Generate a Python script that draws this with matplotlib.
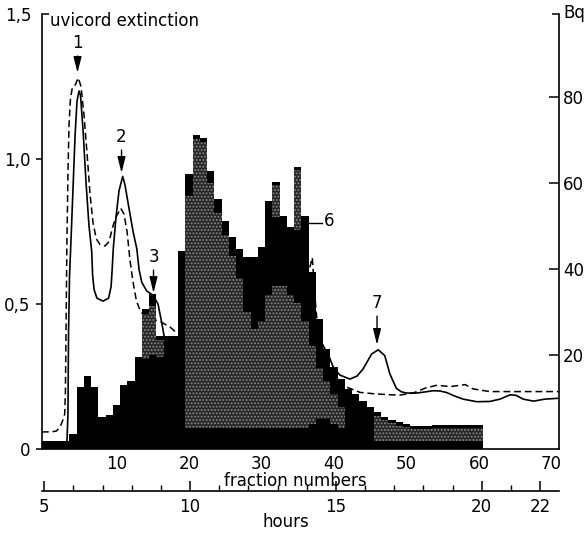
import numpy as np
import matplotlib
matplotlib.use("Agg")
import matplotlib.pyplot as plt
from matplotlib.ticker import FixedLocator, FixedFormatter, MultipleLocator

plt.rcParams['font.family'] = ['DejaVu Sans']
plt.rcParams['hatch.linewidth'] = 0.9

# ---------------- data ----------------
fractions = list(range(0, 61))
activity_bq = [0, 0, 0, 0, 1.6, 12.5, 15.2, 12.5, 5.5, 6.0,
               8.4, 13.0, 14.0, 19.5, 30.7, 34.2, 24.5, 24.5, 24.5, 44.2,
               62.1, 71.2, 70.4, 62.9, 56.3, 51.2, 47.4, 44.7, 42.7, 42.7,
               45.0, 55.7, 60.3, 52.3, 49.7, 63.7, 52.4, 39.4, 28.4, 21.4,
               17.2, 14.4, 12.0, 10.9, 9.4, 7.9, 6.7, 5.6, 4.9, 4.4,
               4.0, 3.6, 3.6, 3.6, 3.8, 3.8, 3.8, 3.8, 3.8, 3.8, 3.8]

# stippled (grey) parts of the histogram
stipple_f = [14, 15, 16, 20, 21, 22, 23, 24, 25, 26, 27, 28, 29, 30, 31, 32, 33,
             34, 35, 36, 37, 38, 39, 40, 41, 46, 47, 48, 49, 50, 51, 52, 53,
             54, 55, 56, 57, 58, 59, 60, 32, 35]
stipple_lo = [19, 20, 19.5, 3, 3, 3, 3, 3, 3, 3, 3, 3, 3, 3, 3, 3, 3,
              3, 3, 3, 4, 5, 5, 4, 3, 0, 0, 0, 0, 0, 0, 0, 0,
              0, 0, 0, 0, 0, 0, 0, 52, 49]
stipple_hi = [29.5, 31.5, 23.5, 57, 70.3, 69.5, 60, 53, 48, 43, 38, 30, 26, 28, 34, 36, 36,
              34, 32, 28, 22, 17, 14, 11, 8, 5.9, 4.8, 4.1, 3.6, 3.2, 2.8, 2.8, 2.8,
              3.0, 3.0, 3.0, 3.0, 3.0, 3.0, 3.0, 59.5, 63]

# uvicord extinction, solid trace
solid_f = [-0.3, 3.0, 3.17, 3.3, 3.38, 3.52, 3.72, 4.0, 4.28, 4.55, 4.83, 5.03,
           5.38, 5.79, 6.2, 6.58, 6.7, 6.9, 7.3, 8.14, 8.9, 9.25, 9.4, 9.55,
           9.93, 10.34, 10.85, 11.17, 11.72, 12.28, 12.8, 13.1, 13.48, 14.16,
           15.03, 15.72, 16.28, 16.83, 17.38, 18.0, 20.0, 25.0, 30.0, 35.0,
           38.0, 39.3, 39.9, 40.8, 42.2, 43.2, 44.0, 45.2, 46.1, 47.0, 47.7,
           48.6, 49.3, 50.0, 51.4, 52.6, 53.7, 54.6, 55.5, 56.6, 57.8, 59.7,
           61.5, 62.9, 64.3, 65.1, 66.1, 67.5, 69.1, 71.0]
solid_e = [0.015, 0.015, 0.03, 0.12, 0.4, 0.6, 0.72, 0.9, 1.08, 1.2, 1.235, 1.22,
           1.1, 0.92, 0.77, 0.68, 0.6, 0.55, 0.52, 0.51, 0.52, 0.56, 0.62, 0.69,
           0.8, 0.89, 0.94, 0.91, 0.83, 0.75, 0.69, 0.62, 0.575, 0.545,
           0.53, 0.5, 0.43, 0.35, 0.29, 0.25, 0.3, 0.45, 0.5, 0.45,
           0.38, 0.32, 0.282, 0.255, 0.241, 0.252, 0.276, 0.328, 0.342, 0.322, 0.259,
           0.209, 0.197, 0.193, 0.193, 0.197, 0.201, 0.2, 0.195, 0.183, 0.172, 0.163,
           0.164, 0.172, 0.187, 0.185, 0.172, 0.165, 0.172, 0.175]

# uvicord extinction, dashed trace
dashed_f = [-0.3, 1.0, 1.7, 2.2, 2.6, 2.85, 2.95, 3.05, 3.15, 3.3, 3.45, 3.65,
            3.9, 4.3, 4.73, 5.1, 5.52, 5.93, 6.34, 6.76, 7.2, 7.72, 8.41, 8.97,
            9.52, 9.93, 10.58, 11.03, 11.45, 11.86, 12.28, 12.75, 13.3, 13.66,
            14.6, 16.0, 17.4, 18.3, 20.0, 25.0, 30.0, 35.0, 36.6, 37.0, 37.45,
            37.8, 39.0, 40.0, 41.0, 42.6, 43.6, 45.7, 47.7, 49.1, 50.9, 52.6,
            54.2, 56.0, 58.1, 59.2, 61.5, 65.7, 71.0]
dashed_e = [0.059, 0.059, 0.062, 0.075, 0.1, 0.12, 0.2, 0.45, 0.7, 0.95, 1.12, 1.21,
            1.245, 1.255, 1.28, 1.25, 1.15, 1.02, 0.88, 0.78, 0.725, 0.705, 0.7, 0.715,
            0.77, 0.8, 0.83, 0.81, 0.75, 0.65, 0.575, 0.51, 0.475, 0.465,
            0.45, 0.44, 0.42, 0.4, 0.42, 0.5, 0.55, 0.58, 0.62, 0.66, 0.5,
            0.4, 0.3, 0.25, 0.22, 0.205, 0.195, 0.19, 0.187, 0.186, 0.193, 0.21,
            0.22, 0.215, 0.222, 0.207, 0.198, 0.198, 0.198]

peak_labels = ['1', '2', '3', '7']
peak_f = [4.62, 10.69, 15.1, 45.93]
peak_e = [1.297, 0.952, 0.538, 0.359]
label_offsets_pt = [21.6, 25.9, 25.9, 30.2]

y_ticks = [0, 0.5, 1.0]
y_ticklabels = ['0', '0,5', '1,0']
bq_ticks = [20, 40, 60, 80]
fraction_ticks = [10, 20, 30, 40, 50, 60, 70]
hour_ticks = [5, 10, 15, 20, 22]

# ---------------- figure ----------------
W, H = 587, 535
fig = plt.figure(figsize=(W / 100, H / 100), dpi=100)
fig.patch.set_facecolor('white')

L, R, T, B = 42, 559, 14, 449
rect = [L / W, 1 - B / H, (R - L) / W, (B - T) / H]
ax = fig.add_axes(rect)
ax.set_xlim(-0.28, 71.03)
ax.set_ylim(0, 1.5)
FS = 12

ax.plot(solid_f, solid_e, color='black', lw=1.2, zorder=2)
ax.plot(dashed_f, dashed_e, color='black', lw=1.1, dashes=(4.5, 2.5), zorder=2)

for s in ['top', 'right']:
    ax.spines[s].set_visible(False)
for s in ['left', 'bottom']:
    ax.spines[s].set_linewidth(1.2)

ax.yaxis.set_major_locator(FixedLocator(y_ticks))
ax.yaxis.set_major_formatter(FixedFormatter(y_ticklabels))
ax.yaxis.set_minor_locator(FixedLocator([1.5]))
ax.yaxis.set_minor_formatter(FixedFormatter(['1,5']))
ax.tick_params(axis='y', which='major', direction='out', length=4, width=1.1,
               labelsize=FS, pad=4.5)
ax.tick_params(axis='y', which='minor', direction='in', length=5, width=1.1,
               labelsize=FS, pad=7.5)

ax.xaxis.set_major_locator(FixedLocator(fraction_ticks))
ax.xaxis.set_major_formatter(FixedFormatter([str(t) for t in fraction_ticks]))
ax.xaxis.set_minor_locator(FixedLocator([70]))
ax.tick_params(axis='x', which='major', direction='in', length=0, labelsize=FS, pad=4.5)
ax.tick_params(axis='x', which='minor', direction='in', length=6, width=1.1)

# right axis: activity in Bq
BQ_PX = 4.3
BQ0_Y = 441
bq_min = -(B - BQ0_Y) / BQ_PX
bq_max = (BQ0_Y - T) / BQ_PX
ax2 = ax.twinx()
ax2.set_ylim(bq_min, bq_max)
for s in ['top', 'left', 'bottom']:
    ax2.spines[s].set_visible(False)
ax2.spines['right'].set_linewidth(1.2)
ax2.yaxis.set_major_locator(FixedLocator(bq_ticks))
ax2.yaxis.set_major_formatter(FixedFormatter([str(t) for t in bq_ticks]))
ax2.yaxis.set_minor_locator(FixedLocator([bq_max]))
ax2.tick_params(axis='y', which='major', direction='in', length=7, width=1.1,
                labelsize=FS, pad=3)
ax2.tick_params(axis='y', which='minor', direction='in', length=5, width=1.1,
                labelright=False)

# histogram
edges = np.append(np.array(fractions) - 0.5, fractions[-1] + 0.5)
ax2.stairs(activity_bq, edges, baseline=bq_min, fill=True, color='black',
           linewidth=0, zorder=3)
ax2.bar(stipple_f, np.array(stipple_hi) - np.array(stipple_lo), bottom=stipple_lo,
        width=1.0, color='#262626', edgecolor='#8a8a8a', hatch='.....',
        linewidth=0, antialiased=False, zorder=4)

# peak markers
for lab, f, e, off in zip(peak_labels, peak_f, peak_e, label_offsets_pt):
    ax2.annotate(lab, xy=(f, e), xycoords=ax.transData,
                 xytext=(0, off), textcoords='offset points',
                 ha='center', va='center', fontsize=FS, zorder=6,
                 arrowprops=dict(arrowstyle='-|>,head_length=0.8,head_width=0.2',
                                 mutation_scale=12, color='black', lw=1.0,
                                 shrinkA=1, shrinkB=0))
ax2.plot([36.6, 38.4], [0.78, 0.78], color='black', lw=1.0,
         transform=ax.transData, zorder=6)
ax2.text(38.6, 0.785, '6', transform=ax.transData, ha='left', va='center',
         fontsize=FS, zorder=6)

# hours axis
hy = 491
hax = fig.add_axes([L / W, 1 - hy / H, (R - L) / W, 0.001])
hax.patch.set_visible(False)
hax.set_xlim(4.92, 22.65)
hax.set_yticks([])
for s in ['top', 'left', 'right']:
    hax.spines[s].set_visible(False)
hax.spines['bottom'].set_linewidth(1.2)
hax.xaxis.set_major_locator(FixedLocator(hour_ticks))
hax.xaxis.set_major_formatter(FixedFormatter([str(t) for t in hour_ticks]))
hax.xaxis.set_minor_locator(MultipleLocator(1))
hax.tick_params(axis='x', which='major', direction='in', length=7, width=1.1,
                labelsize=FS, pad=5)
hax.tick_params(axis='x', which='minor', direction='in', length=4, width=1.0)

# texts
fig.text(50 / W, 1 - 21 / H, 'uvicord extinction', ha='left', va='center', fontsize=FS)
fig.text(563 / W, 1 - 13 / H, 'Bq', ha='left', va='center', fontsize=FS)
fig.text(295 / W, 1 - 481 / H, 'fraction numbers', ha='center', va='center', fontsize=FS)
fig.text(286 / W, 1 - 522 / H, 'hours', ha='center', va='center', fontsize=FS)

fig.savefig('out.png', dpi=100, facecolor='white')
